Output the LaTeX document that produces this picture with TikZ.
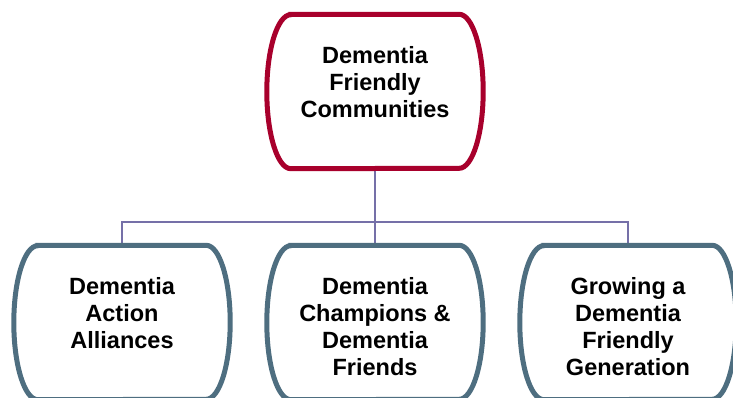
\documentclass[tikz,border=0pt]{standalone}
\usepackage{fontspec}
\setmainfont{Liberation Sans}
\usetikzlibrary{calc}

\definecolor{dfcred}{RGB}{168,0,44}
\definecolor{branchblue}{RGB}{78,110,128}
\definecolor{linkpurple}{RGB}{117,112,168}

% outline with flat top and bottom and half-ellipse sides
\newcommand\blob[2]{%
  \draw[#2, line width=5pt]
    ($(#1.north west)+(24pt,0)$) -- ($(#1.north east)+(-24pt,0)$)
    arc[start angle=90, end angle=-90, x radius=24pt, y radius=77pt]
    -- ($(#1.south west)+(24pt,0)$)
    arc[start angle=270, end angle=90, x radius=24pt, y radius=77pt]
    -- cycle;}

\begin{document}
\begin{tikzpicture}[x=1pt,y=-1pt,
    frame/.style={minimum width=216pt, minimum height=154pt, inner sep=0pt},
    caption/.style={align=center, inner sep=0pt,
      font=\fontsize{23.5}{27}\selectfont\bfseries},
    link/.style={linkpurple, line width=1.5pt}]
   \useasboundingbox (0,0) rectangle (733,398);

   \node[frame] (dfcbox) at (375,91.5) {};
   \node[frame] (daabox) at (122,322.5) {};
   \node[frame] (dcfbox) at (375,322.5) {};
   \node[frame] (gdfbox) at (628,322.5) {};

   \coordinate (bus) at (375,222);
   \draw[link] (dfcbox.south) -- (bus);
   \draw[link] (bus) -| (daabox.north);
   \draw[link] (bus) -- (dcfbox.north);
   \draw[link] (bus) -| (gdfbox.north);

   \blob{dfcbox}{dfcred}
   \blob{daabox}{branchblue}
   \blob{dcfbox}{branchblue}
   \blob{gdfbox}{branchblue}

   \node[caption] (dfc) at (375,82) {Dementia\\Friendly\\Communities};
   \node[caption] (daa) at (122,313) {Dementia\\Action\\Alliances};
   \node[caption] (dcf) at (375,327) {Dementia\\Champions \&\\Dementia\\Friends};
   \node[caption] (gdf) at (628,327) {Growing a\\Dementia\\Friendly\\Generation};
\end{tikzpicture}
\end{document}
